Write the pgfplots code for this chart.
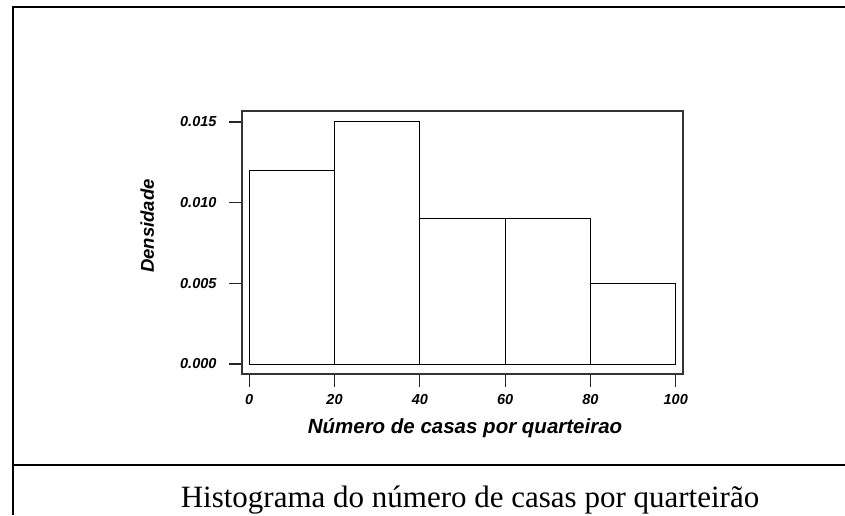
\documentclass[border=0pt]{standalone}
\usepackage{fontspec}
\setmainfont{Liberation Serif}
\setsansfont{Liberation Sans}
\usepackage{pgfplots}
\pgfplotsset{compat=1.18}
\begin{document}
\begin{tikzpicture}[x=1pt,y=1pt]
\path[use as bounding box] (0,0) rectangle (845,515);
% outer frame
\draw[line width=2pt, line cap=butt] (13,0) -- (13,508.7);
\draw[line width=2pt, line cap=butt] (12,507.7) -- (845,507.7);
\draw[line width=2pt, line cap=butt] (12,50) -- (845,50);
\begin{axis}[
  at={(242pt,141pt)}, anchor=south west,
  scale only axis, width=441pt, height=263pt,
  xmin=-1.7, xmax=101.7, ymin=-0.00062, ymax=0.01568,
  axis line style={black!80, line width=1.2pt},
  xtick={0,20,40,60,80,100},
  ytick={0,0.005,0.010,0.015},
  xtick pos=bottom, ytick pos=left,
  tick align=outside, major tick length=13pt,
  tick style={black!85, line width=1.2pt},
  scaled y ticks=false,
  /pgf/number format/assume math mode=true,
  ticklabel style={font=\fontsize{14.5}{16}\sffamily\bfseries\itshape},
  yticklabel style={/pgf/number format/fixed, /pgf/number format/fixed zerofill, /pgf/number format/precision=3, xshift=-9pt},
  xticklabel style={yshift=-4pt},
  xlabel={Número de casas por quarteirao},
  ylabel={Densidade},
  xlabel style={font=\fontsize{20.5}{23}\sffamily\bfseries\itshape, at={(axis description cs:0.5057,-0.228)}, anchor=base},
  ylabel style={font=\fontsize{18.5}{20}\sffamily\bfseries\itshape, at={(axis description cs:-0.215,0.563)}, anchor=center, rotate=0},
]
\addplot[ybar interval, draw=black, fill=white, line width=1pt] coordinates {(0,0.012) (20,0.015) (40,0.009) (60,0.009) (80,0.005) (100,0.005)};
\end{axis}
\node[anchor=base, font=\fontsize{31}{34}\selectfont, inner sep=0pt] at (470,7.5) {Histograma do número de casas por quarteirão};
\end{tikzpicture}
\end{document}
